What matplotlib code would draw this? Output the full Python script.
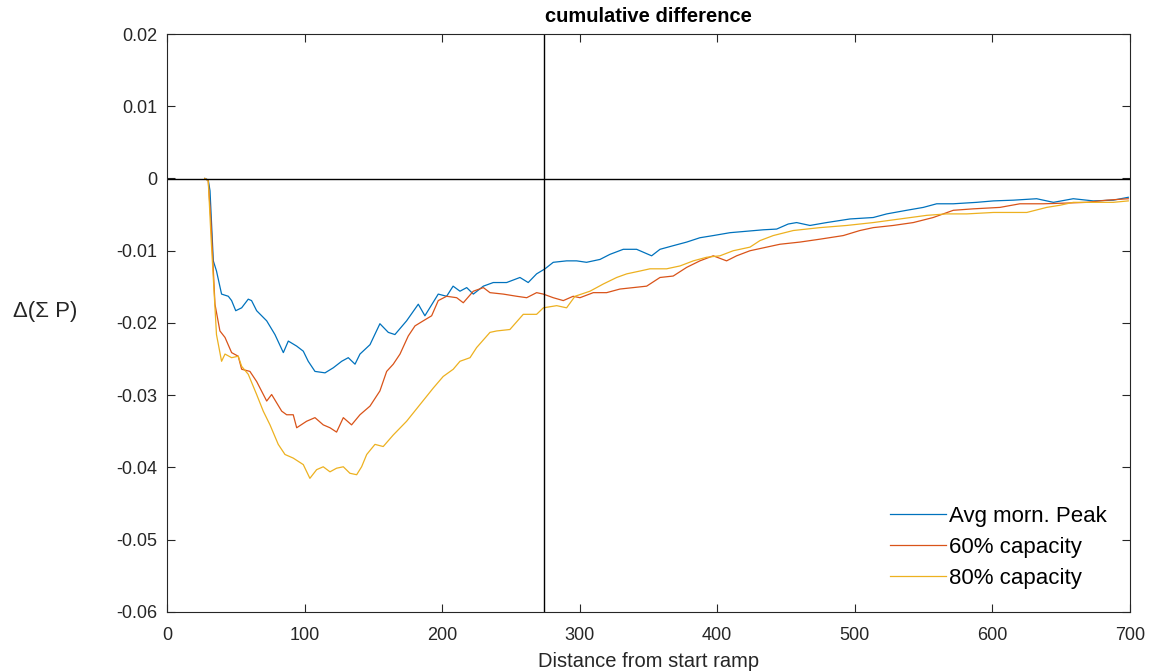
import numpy as np
import matplotlib.pyplot as plt

plt.rcParams['font.family'] = ['Liberation Sans', 'DejaVu Sans']
plt.rcParams['axes.unicode_minus'] = False

# distance (m) / cumulative difference
x_avg = [27.6, 30, 31.3, 33.7, 36, 39.7, 44.6, 47, 50, 54.3, 59.1, 61.5, 65.2, 72.5, 78.5, 84.6,
         88.2, 94.3, 99.1, 102.7, 107.6, 114.9, 120.9, 127, 131.8, 136.7, 140.3, 147.6, 154.8,
         160.9, 165.7, 174.2, 182.7, 187.5, 197.2, 203.3, 208, 213, 217.9, 222.7, 230, 237.2,
         246.9, 256.6, 262.6, 268.7, 274.8, 280.8, 290.5, 297.8, 305, 314.8, 322, 331.7, 341.4,
         352.3, 358.4, 368, 377.8, 387.4, 397.1, 409.3, 421.4, 433.5, 443.2, 451.6, 457.7,
         467.4, 479.5, 496.5, 513.4, 523.2, 537.7, 549.8, 559.5, 571.6, 588.6, 600.8, 615.2,
         632.2, 644.4, 658.8, 673.4, 687.9, 698.8]
y_avg = [0, -0.0002, -0.0017, -0.0114, -0.0128, -0.016, -0.0163, -0.0169, -0.0183, -0.0179,
         -0.0167, -0.0169, -0.0183, -0.0197, -0.0216, -0.0241, -0.0225, -0.0232, -0.0239,
         -0.0253, -0.0267, -0.0269, -0.0262, -0.0253, -0.0248, -0.0257, -0.0243, -0.023,
         -0.0201, -0.0213, -0.0216, -0.0197, -0.0174, -0.019, -0.016, -0.0163, -0.0149,
         -0.0156, -0.0151, -0.016, -0.0149, -0.0144, -0.0144, -0.0137, -0.0144, -0.0132,
         -0.0125, -0.0116, -0.0114, -0.0114, -0.0116, -0.0112, -0.0105, -0.0098, -0.0098,
         -0.0107, -0.0098, -0.0093, -0.0088, -0.0082, -0.0079, -0.0075, -0.0073, -0.0071,
         -0.007, -0.0063, -0.0061, -0.0065, -0.0061, -0.0056, -0.0054, -0.0049, -0.0044,
         -0.004, -0.0035, -0.0035, -0.0033, -0.0031, -0.003, -0.0028, -0.0033, -0.0028,
         -0.0031, -0.003, -0.0026]

x_60 = [27.6, 30, 32, 34.9, 38.5, 42.2, 47, 51.8, 54.3, 60.3, 65.2, 72.5, 76.1, 83.4, 87, 91.8,
        94.3, 101.5, 107.6, 113.6, 118.5, 123.3, 128.2, 134.2, 140.3, 147.6, 154.8, 159.7,
        164.5, 169.4, 175.4, 180.3, 186.3, 192.4, 197.2, 203.3, 210.6, 215.4, 222.7, 230,
        234.8, 244.5, 254.2, 261.5, 268.7, 273.6, 280.8, 288.1, 295.3, 300.2, 309.9, 319.6,
        329.3, 339, 348.7, 358.4, 368, 377.8, 387.4, 397.1, 406.8, 414.1, 423.8, 435.9,
        445.6, 460.1, 474.6, 491.6, 503.7, 513.4, 527.9, 542.5, 557, 571.6, 586.1, 605.5,
        620, 637, 654, 668.5, 683.1, 698.8]
y_60 = [0, -0.0003, -0.006, -0.0174, -0.0211, -0.022, -0.0241, -0.0246, -0.0264, -0.0267,
        -0.0281, -0.0308, -0.0299, -0.0322, -0.0327, -0.0327, -0.0345, -0.0336, -0.0331,
        -0.0341, -0.0345, -0.0351, -0.0331, -0.0341, -0.0327, -0.0315, -0.0294, -0.0267,
        -0.0257, -0.0243, -0.0218, -0.0204, -0.0197, -0.019, -0.0169, -0.0163, -0.0165,
        -0.0172, -0.0156, -0.0151, -0.0158, -0.016, -0.0163, -0.0165, -0.0158, -0.016,
        -0.0165, -0.0169, -0.0163, -0.0165, -0.0158, -0.0158, -0.0153, -0.0151, -0.0149,
        -0.0137, -0.0135, -0.0123, -0.0114, -0.0107, -0.0114, -0.0107, -0.01, -0.0095,
        -0.0091, -0.0088, -0.0084, -0.0079, -0.0072, -0.0068, -0.0065, -0.0061, -0.0054,
        -0.0044, -0.0042, -0.004, -0.0035, -0.0035, -0.0034, -0.0033, -0.003, -0.0028]

x_80 = [27.6, 30, 32, 36, 39.7, 42.2, 47, 51.8, 54.3, 59.1, 65.2, 70, 74.9, 80.9, 85.8, 91.8,
        99.1, 103.9, 108.8, 113.6, 118.5, 123.3, 128.2, 133, 137.9, 141.5, 145.2, 151.2,
        157.2, 164.5, 174.2, 183.9, 193.6, 200.8, 208.1, 213, 220.3, 225.1, 234.8, 239.7,
        249.3, 259, 268.7, 273.6, 283.3, 290.5, 296.6, 307.5, 317.2, 326.9, 334.2, 344,
        351.1, 363.2, 373, 382.6, 392.3, 402, 411.6, 423.8, 431, 440.7, 455.3, 474.6, 494.1,
        513.4, 532.8, 552.3, 566.8, 581.3, 600.8, 625, 639.5, 649.2, 658.8, 673.4, 687.9,
        698.8]
y_80 = [0, -0.0003, -0.008, -0.0216, -0.0253, -0.0243, -0.0248, -0.0246, -0.026, -0.0271,
        -0.0299, -0.0322, -0.0341, -0.0368, -0.0382, -0.0387, -0.0396, -0.0415, -0.0403,
        -0.0399, -0.0406, -0.0401, -0.0399, -0.0408, -0.041, -0.0399, -0.0382, -0.0368,
        -0.0371, -0.0355, -0.0336, -0.0313, -0.029, -0.0274, -0.0264, -0.0253, -0.0248,
        -0.0234, -0.0213, -0.0211, -0.0209, -0.0188, -0.0188, -0.0179, -0.0176, -0.0179,
        -0.0163, -0.0156, -0.0146, -0.0137, -0.0132, -0.0128, -0.0125, -0.0125, -0.0121,
        -0.0114, -0.0109, -0.0107, -0.01, -0.0095, -0.0086, -0.0079, -0.0072, -0.0068,
        -0.0065, -0.0061, -0.0056, -0.0051, -0.0049, -0.0049, -0.0047, -0.0047, -0.004,
        -0.0037, -0.0033, -0.0033, -0.0033, -0.0031]

labels = ['Avg morn. Peak', '60% capacity', '80% capacity']
colors = ['#0072BD', '#D95319', '#EDB120']
x_mark = 274

fig = plt.figure(figsize=(11.53, 6.72), dpi=100)
ax = fig.add_axes([0.1448, 0.0893, 0.8352, 0.8601])

for xs, ys, lab, c in zip([x_avg, x_60, x_80], [y_avg, y_60, y_80], labels, colors):
    ax.plot(xs, ys, color=c, lw=0.9, label=lab)

ax.axhline(0, color='black', lw=1)
ax.axvline(x_mark, color='black', lw=1)

ax.set_xlim(0, 700)
ax.set_ylim(-0.06, 0.02)
ax.set_xticks(np.arange(0, 701, 100))
ax.set_yticks(np.arange(-0.06, 0.0201, 0.01))
ax.set_yticklabels(['-0.06', '-0.05', '-0.04', '-0.03', '-0.02', '-0.01', '0', '0.01', '0.02'])
ax.tick_params(direction='in', top=True, right=True, length=5.5, width=0.8,
               labelsize=13, labelcolor='#262626', colors='#262626')
ax.tick_params(axis='x', pad=11)
ax.tick_params(axis='y', pad=7)
for s in ax.spines.values():
    s.set_color('#262626')
    s.set_linewidth(0.8)

ax.set_title('cumulative difference', fontsize=14.5, fontweight='bold', pad=9)
ax.set_xlabel('Distance from start ramp', fontsize=14.5, color='#262626')
ax.xaxis.set_label_coords(0.5, -0.07)
ax.set_ylabel('Δ(Σ P)', fontsize=16, color='#262626', rotation=0, ha='center', va='center')
ax.yaxis.set_label_coords(-0.126, 0.52)

ax.legend(loc='lower right', frameon=False, fontsize=16, handlelength=2.5,
          handletextpad=0.15, labelspacing=0.45, borderaxespad=0.65)

fig.savefig('out.png', dpi=100)
